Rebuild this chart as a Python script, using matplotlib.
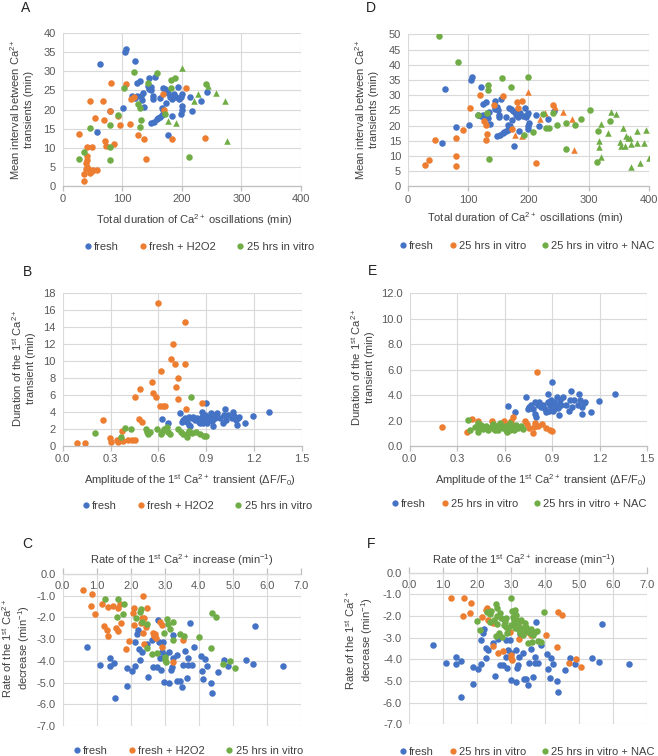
import matplotlib
matplotlib.use('Agg')
import matplotlib.pyplot as plt
from matplotlib.lines import Line2D
from matplotlib.ticker import FormatStrFormatter, MultipleLocator

plt.rcParams['font.family'] = ['Liberation Sans', 'DejaVu Sans']
plt.rcParams['mathtext.fontset'] = 'custom'
plt.rcParams['mathtext.rm'] = 'Liberation Sans'
plt.rcParams['mathtext.it'] = 'Liberation Sans:italic'
plt.rcParams['mathtext.bf'] = 'Liberation Sans:bold'

# ---------------- DATA ----------------
# Panels A / D : total duration (min) vs mean interval (min)
ad_fresh_x = [62, 105, 107, 121, 124, 130, 117, 121, 101, 57, 79, 132, 133, 135, 136, 145, 144, 145, 148, 149,
              155, 152, 152, 148, 153, 158, 160, 163, 166, 169, 166, 163, 168, 171, 174, 177, 173, 176, 180, 183,
              184, 186, 191, 194, 196, 198, 200, 201, 200, 199, 213, 217, 232, 242, 125]
ad_fresh_y = [32, 35, 36, 32.7, 27, 27.6, 23.5, 23, 20.3, 14.2, 19.6, 23.5, 22.5, 24.4, 20.6, 28.2, 26.2, 25.3, 26, 25.1,
              28.6, 23.5, 22.7, 16.5, 16.8, 17.4, 17.7, 18.1, 18.6, 19.9, 20.3, 22.9, 25.6, 25.3, 24.9, 24.4, 21.8, 13.3, 23.4, 22.7,
              18.3, 24.1, 23.2, 25.8, 22.7, 23.4, 24.1, 20.9, 19.9, 18.7, 23.4, 19.7, 22.3, 24.7, 23.6]
a_h2o2_x = [28, 45, 54, 67, 69, 71, 73, 81, 80, 86, 92, 96, 106, 113, 114, 119, 126, 136, 140, 168, 170, 184, 207, 239,
            41, 50, 41, 41, 39, 41, 39, 46, 49, 58, 46, 36, 35, 51]
a_h2o2_y = [13.7, 22.3, 17.9, 22.2, 17.2, 11.8, 10.4, 27, 19.6, 10.9, 18.3, 15.9, 26.6, 16.2, 22.8, 23.2, 13.3, 12.3, 7.1,
            24, 20, 12.2, 25.7, 12.6, 10.2, 10.1, 7.8, 6.7, 5.9, 5, 4.3, 4.1, 3.9, 4.1, 3.4, 3.1, 1.3, 4.2]
ad_vitro_x = [28, 35, 45, 79, 79, 79, 92, 103, 120, 127, 130, 131, 130, 143, 158, 172, 181, 182, 189, 212, 241]
ad_vitro_y = [7, 8.8, 15.2, 15.9, 10.1, 6.7, 18.6, 25.7, 29.9, 21.4, 20.3, 17.2, 15.3, 26.9, 29.7, 18.8, 27.7, 25.6,
              28.2, 7.6, 26.6]
ad_vitro_tri_x = [200, 177, 190, 220, 227, 244, 257, 272, 276]
ad_vitro_tri_y = [31, 17, 16.5, 22.1, 24.1, 26.2, 24.4, 22.1, 11.8]
d_nac_x = [51, 83, 133, 133, 116, 132, 135, 156, 171, 199, 193, 207, 224, 230, 234, 241, 248, 263, 263, 278, 287,
           303, 315, 314, 336]
d_nac_y = [49.6, 41, 33.3, 31.7, 23.5, 24, 8.9, 35.5, 32.6, 36.1, 16.9, 17.7, 23.7, 19.1, 19.3, 24, 20.2, 20.9, 12.3,
           20.2, 22.3, 25, 18.2, 8.1, 21.4]
d_nac_tri_x = [320, 318, 318, 320, 332, 337, 346, 352, 354, 358, 361, 363, 366, 369, 370, 371, 381, 381, 386, 393,
               396, 400]
d_nac_tri_y = [9.5, 13, 14.9, 20.4, 17.4, 24.6, 23.7, 14.7, 13.4, 19.3, 13.4, 16.7, 16.0, 15.8, 13.9, 6.4, 14.3, 18.3,
               7.6, 14.1, 18.5, 9.4]

# Panels B / E : amplitude (dF/F0) vs duration of 1st transient (min)
be_fresh_x = [0.623, 0.663, 0.736, 0.747, 0.757, 0.768, 0.782, 0.795, 0.795, 0.81, 0.82, 0.831, 0.841, 0.858, 0.872,
              0.872, 0.879, 0.887, 0.893, 0.9, 0.9, 0.904, 0.914, 0.921, 0.929, 0.929, 0.937, 0.946, 0.95, 0.956,
              0.967, 0.987, 1.008, 1.013, 1.019, 1.025, 1.04, 1.061, 1.071, 1.077, 1.088, 1.092, 1.102, 1.109, 1.144,
              1.197, 1.297, 0.80, 0.86, 0.91, 0.94]
be_fresh_y = [3.14, 2.67, 3.85, 2.87, 3.07, 3.26, 2.87, 2.48, 3.46, 3.26, 3.46, 3.07, 3.26, 2.87, 4.05,
              3.46, 2.75, 3.26, 3.65, 5.03, 3.07, 2.75, 3.46, 3.07, 3.85, 3.26, 2.99, 2.4, 3.65, 3.26,
              3.85, 3.26, 2.75, 3.65, 4.32, 3.07, 3.65, 3.26, 4.05, 3.58, 3.07, 2.48, 3.34, 3.46, 2.67,
              3.54, 4.05, 2.3, 2.7, 2.9, 3.1]
b_h2o2_x = [0.088, 0.14, 0.251, 0.297, 0.301, 0.343, 0.349, 0.374, 0.381, 0.412, 0.433, 0.454, 0.481, 0.496, 0.485,
            0.454, 0.563, 0.569, 0.586, 0.598, 0.615, 0.611, 0.628, 0.642, 0.678, 0.695, 0.705, 0.709, 0.722, 0.722,
            0.768, 0.77, 0.772, 0.874]
b_h2o2_y = [0.31, 0.31, 3.03, 0.98, 0.51, 0.71, 0.43, 1.81, 0.63, 0.71, 0.71, 0.71, 3.14, 2.79, 6.68,
            5.82, 7.51, 6.21, 5.82, 16.8, 8.84, 4.72, 4.72, 4.72, 10.3, 12.0, 9.67, 7.0, 8.06, 5.5,
            14.66, 9.67, 4.36, 5.03]
be_vitro_x = [0.203, 0.364, 0.391, 0.429, 0.521, 0.527, 0.538, 0.548, 0.594, 0.617, 0.626, 0.638, 0.653, 0.659,
              0.674, 0.726, 0.741, 0.753, 0.778, 0.785, 0.793, 0.805, 0.81, 0.835, 0.862, 0.887, 0.897]
be_vitro_y = [1.49, 1.10, 2.16, 2.0, 2.0, 1.69, 1.38, 1.61, 2.0, 1.38, 1.69, 2.0, 2.28, 1.61,
              1.38, 2.0, 1.69, 1.41, 1.02, 1.49, 1.81, 5.82, 1.57, 1.69, 1.38, 1.22, 1.18]
e_nac_x = [0.369, 0.379, 0.411, 0.432, 0.442, 0.453, 0.474, 0.485, 0.495, 0.512, 0.527, 0.533, 0.548, 0.558, 0.569,
           0.579, 0.60, 0.611, 0.617, 0.632, 0.638, 0.647, 0.659, 0.674, 0.685, 0.706, 0.716, 0.537, 0.432, 0.632,
           0.465, 0.59, 0.50]
e_nac_y = [2.04, 1.23, 1.52, 1.78, 1.44, 1.65, 1.39, 1.57, 1.26, 1.52, 1.73, 1.36, 1.57, 1.26, 1.78,
           1.47, 1.57, 1.26, 1.13, 1.78, 1.52, 1.39, 1.26, 1.65, 1.39, 1.57, 1.34, 1.26, 1.13, 1.26,
           1.30, 1.40, 1.45]

# Panels C / F : rate of increase (1/min) vs rate of decrease (1/min)
cf_fresh_x = [0.70, 1.10, 1.39, 1.39, 1.52, 1.54, 1.88, 1.88, 2.03, 2.12, 2.12, 2.17, 2.20, 2.25, 2.27, 2.32, 2.47,
              2.52, 2.61, 2.66, 2.76, 2.79, 2.84, 2.86, 2.89, 2.91, 2.96, 2.99, 3.01, 3.13, 3.13, 3.17, 3.20, 3.23,
              3.25, 3.35, 3.37, 3.45, 3.50, 3.52, 3.59, 3.64, 3.69, 3.69, 3.74, 3.79, 3.87, 4.05, 4.08, 4.13, 4.18,
              4.23, 4.35, 4.38, 4.57, 4.74, 4.87, 5.37, 5.58, 5.66, 6.46]
cf_fresh_y = [-3.35, -4.19, -3.88, -4.22, -4.08, -5.73, -4.34, -5.16, -4.45, -3.12, -4.22, -2.78, -2.58, -3.47, -3.96,
              -3.58, -3.24, -4.76, -3.04, -4.27, -4.27, -2.12, -3.12, -3.88, -4.42, -3.58, -3.12, -4.96, -3.73, -5.03,
              -3.58, -4.42, -4.27, -3.88, -2.81, -3.73, -4.91, -4.91, -5.19, -4.19, -3.53, -4.80, -3.88, -4.19, -2.27,
              -4.19, -3.35, -3.76, -4.45, -4.84, -3.93, -4.22, -5.0, -5.5, -4.5, -3.96, -4.22, -3.96, -4.14, -2.38,
              -4.22]
c_h2o2_x = [0.59, 0.87, 0.82, 0.95, 1.15, 1.21, 1.31, 1.34, 1.34, 1.47, 1.57, 1.63, 1.63, 1.68, 1.70, 1.86, 1.95,
            2.06, 2.08, 2.10, 2.29, 2.32, 2.35, 2.37, 2.40, 2.45, 2.47, 2.39, 2.64, 2.68, 2.71, 2.74, 2.86, 2.91,
            2.93, 3.25, 3.54]
c_h2o2_y = [-0.74, -0.94, -1.46, -1.86, -1.38, -2.38, -2.58, -2.84, -1.53, -1.46, -2.47, -2.62, -1.58, -1.40, -2.24,
            -3.45, -3.09, -1.78, -1.55, -2.35, -2.24, -2.04, -2.73, -1.0, -2.01, -2.44, -1.55, -3.24, -2.73, -2.86,
            -2.78, -2.96, -2.19, -2.35, -3.35, -4.04, -3.04]
cf_vitro_x = [1.24, 1.61, 1.59, 1.78, 1.81, 2.15, 2.27, 2.30, 2.32, 2.47, 2.47, 2.61, 2.76, 2.98, 3.01, 3.01, 3.03,
              3.07, 3.10, 3.15, 3.23, 3.25, 3.45, 3.57, 4.01, 4.35, 4.38, 4.50, 4.70, 4.90, 5.06]
cf_vitro_y = [-1.15, -1.17, -2.0, -1.86, -1.40, -2.04, -1.73, -1.61, -2.19, -2.32, -3.39, -3.70, -3.62, -2.73, -3.81,
              -3.96, -4.04, -2.07, -2.32, -2.53, -3.04, -2.23, -2.76, -2.86, -2.89, -3.42, -1.81, -1.96, -4.16, -3.99,
              -4.34]
f_nac_x = [2.01, 2.10, 2.30, 2.37, 2.42, 2.39, 2.50, 2.56, 2.58, 2.59, 2.59, 2.56, 2.63, 2.66, 2.71, 2.73, 2.79,
           2.83, 2.86, 2.89, 2.91, 2.99, 3.01, 3.03, 3.05, 3.08, 3.10, 3.12, 3.12, 3.15, 3.18, 3.20, 3.22, 3.25,
           3.28, 3.32, 3.35, 3.40, 3.42, 3.45, 3.48, 3.51, 3.54, 3.59, 3.61, 3.64, 3.69, 3.77, 3.79, 3.87, 3.97,
           2.86, 3.30]
f_nac_y = [-2.21, -2.65, -1.83, -1.92, -1.77, -2.26, -2.18, -1.46, -1.65, -1.98, -2.38, -2.91, -2.80, -1.88, -2.11,
           -2.95, -2.41, -2.26, -2.11, -2.80, -2.57, -2.41, -1.15, -1.77, -2.03, -2.18, -2.38, -2.57, -1.72, -1.95,
           -2.18, -2.41, -2.65, -2.80, -2.54, -2.65, -2.88, -2.60, -2.34, -2.49, -2.69, -3.26, -2.80, -2.60, -3.18,
           -2.88, -2.75, -2.69, -3.15, -3.21, -1.80, -2.49, -2.18]

labels_abc = ['fresh', 'fresh + H2O2', '25 hrs in vitro']
labels_def = ['fresh', '25 hrs in vitro', '25 hrs in vitro + NAC']

# ---------------- STYLE ----------------
COLORS = ['#4472C4', '#ED7D31', '#70AD47']
GRID = '#D9D9D9'
AXC = '#BFBFBF'
TICKC = '#595959'
LABC = '#404040'
FS = 8.0
MS = 22

W, H = 658, 756
fig = plt.figure(figsize=(W / 100, H / 100), dpi=100)


def ax_at(l, t, r, b):
    return fig.add_axes([l / W, 1 - b / H, (r - l) / W, (b - t) / H])


def style(ax, xlim, xstep, xfmt, ylim, ystep, yfmt, top_axis=False):
    ax.set_xlim(*xlim)
    ax.set_ylim(*ylim)
    ax.xaxis.set_major_locator(MultipleLocator(xstep))
    ax.yaxis.set_major_locator(MultipleLocator(ystep))
    ax.xaxis.set_major_formatter(FormatStrFormatter(xfmt))
    ax.yaxis.set_major_formatter(FormatStrFormatter(yfmt))
    for s in ['left', 'right', 'top']:
        ax.spines[s].set_visible(False)
    ax.spines['bottom'].set_color(AXC)
    ax.spines['bottom'].set_linewidth(0.9)
    ax.grid(True, color=GRID, lw=0.8)
    ax.set_axisbelow(True)
    ax.tick_params(axis='y', length=0, pad=5, labelsize=FS, labelcolor=TICKC)
    ax.tick_params(axis='x', length=3.5, width=0.9, color=AXC, pad=2.5, labelsize=FS, labelcolor=TICKC)
    if top_axis:
        ax.spines['bottom'].set_position(('data', 0))
        ax.spines['bottom'].set_zorder(0.5)
        ax.tick_params(axis='x', direction='in', length=4, pad=5)


def legend(labels, cx, cy, cs):
    handles = [Line2D([], [], marker='o', ls='', color=c, markersize=4.5, markeredgewidth=0) for c in COLORS]
    lg = fig.legend(handles, labels, loc='center', bbox_to_anchor=(cx / W, 1 - cy / H), ncol=3, frameon=False,
                    fontsize=FS, handletextpad=0.05, columnspacing=cs, handlelength=1.0, borderaxespad=0,
                    borderpad=0)
    for t in lg.get_texts():
        t.set_color(LABC)


def ftext(x, y, s, **kw):
    kw.setdefault('fontsize', FS)
    kw.setdefault('color', LABC)
    fig.text(x / W, 1 - y / H, s, ha='center', va='center', **kw)


def letter(x, y, s):
    fig.text(x / W, 1 - y / H, s, ha='center', va='center', fontsize=10, color='#222222')


ylab_A = 'Mean interval between Ca$^{2+}$\ntransients (min)'
xlab_A = 'Total duration of Ca$^{2+}$ oscillations (min)'
ylab_B = 'Duration of the 1$^{\\mathrm{st}}$ Ca$^{2+}$\ntransient (min)'
xlab_B = 'Amplitude of the 1$^{\\mathrm{st}}$ Ca$^{2+}$ transient (\u0394F/F$_0$)'
ylab_C = 'Rate of the 1$^{\\mathrm{st}}$ Ca$^{2+}$\ndecrease (min$^{-1}$)'
xlab_C = 'Rate of the 1$^{\\mathrm{st}}$ Ca$^{2+}$ increase (min$^{-1}$)'

# ---------------- PANEL A ----------------
ax = ax_at(62.7, 33.3, 301, 185.7)
style(ax, (0, 400), 100, '%d', (0, 40), 5, '%d')
ax.scatter(ad_fresh_x, ad_fresh_y, s=MS, color=COLORS[0], lw=0)
ax.scatter(a_h2o2_x, a_h2o2_y, s=MS, color=COLORS[1], lw=0)
ax.scatter(ad_vitro_x, ad_vitro_y, s=MS, color=COLORS[2], lw=0)
ax.scatter(ad_vitro_tri_x, ad_vitro_tri_y, s=MS, marker='^', color=COLORS[2], lw=0)
ftext(21, 109, ylab_A, rotation=90, multialignment='center', linespacing=1.2)
ftext(194, 220, xlab_A)
legend(labels_abc, 198, 247, 1.7)
letter(26, 8, 'A')

# ---------------- PANEL D ----------------
ax = ax_at(408, 34.3, 648.7, 186.3)
style(ax, (0, 400), 100, '%d', (0, 50), 5, '%d')
ax.scatter(ad_fresh_x, ad_fresh_y, s=MS, color=COLORS[0], lw=0)
ax.scatter(ad_vitro_x, ad_vitro_y, s=MS, color=COLORS[1], lw=0)
ax.scatter(ad_vitro_tri_x, ad_vitro_tri_y, s=MS, marker='^', color=COLORS[1], lw=0)
ax.scatter(d_nac_x, d_nac_y, s=MS, color=COLORS[2], lw=0)
ax.scatter(d_nac_tri_x, d_nac_tri_y, s=MS, marker='^', color=COLORS[2], lw=0)
ftext(366, 109, ylab_A, rotation=90, multialignment='center', linespacing=1.2)
ftext(525, 218, xlab_A)
legend(labels_def, 526, 246, 1.2)
letter(371, 8, 'D')

# ---------------- PANEL B ----------------
ax = ax_at(62.7, 293.3, 301.7, 446)
style(ax, (0, 1.5), 0.3, '%.1f', (0, 18), 2, '%d')
ax.scatter(be_fresh_x, be_fresh_y, s=MS, color=COLORS[0], lw=0)
ax.scatter(b_h2o2_x, b_h2o2_y, s=MS, color=COLORS[1], lw=0)
ax.scatter(be_vitro_x, be_vitro_y, s=MS, color=COLORS[2], lw=0)
ftext(23, 368, ylab_B, rotation=90, multialignment='center', linespacing=1.2)
ftext(190, 480, xlab_B)
legend(labels_abc, 196, 506, 1.7)
letter(27, 272, 'B')

# ---------------- PANEL E ----------------
ax = ax_at(409.7, 293.3, 647, 446)
style(ax, (0, 1.5), 0.3, '%.1f', (0, 12), 2, '%.1f')
ax.scatter(be_fresh_x, be_fresh_y, s=MS, color=COLORS[0], lw=0)
ax.scatter(be_vitro_x, be_vitro_y, s=MS, color=COLORS[1], lw=0)
ax.scatter(e_nac_x, e_nac_y, s=MS, color=COLORS[2], lw=0)
ftext(362, 367, ylab_B, rotation=90, multialignment='center', linespacing=1.2)
ftext(541, 480, xlab_B)
legend(labels_def, 518, 504, 1.2)
letter(373, 271, 'E')

# ---------------- PANEL C ----------------
ax = ax_at(62.7, 574, 301, 726)
style(ax, (0, 7), 1, '%.1f', (-7, 0), 1, '%.1f', top_axis=True)
ax.scatter(cf_fresh_x, cf_fresh_y, s=MS, color=COLORS[0], lw=0)
ax.scatter(c_h2o2_x, c_h2o2_y, s=MS, color=COLORS[1], lw=0)
ax.scatter(cf_vitro_x, cf_vitro_y, s=MS, color=COLORS[2], lw=0)
ftext(16, 648, ylab_C, rotation=90, multialignment='center', linespacing=1.2)
ftext(182, 560, xlab_C)
legend(labels_abc, 187, 751, 1.7)
letter(27, 544, 'C')

# ---------------- PANEL F ----------------
ax = ax_at(409, 572.7, 647.3, 724.3)
style(ax, (0, 7), 1, '%.1f', (-7, 0), 1, '%.1f', top_axis=True)
ax.scatter(cf_fresh_x, cf_fresh_y, s=MS, color=COLORS[0], lw=0)
ax.scatter(cf_vitro_x, cf_vitro_y, s=MS, color=COLORS[1], lw=0)
ax.scatter(f_nac_x, f_nac_y, s=MS, color=COLORS[2], lw=0)
ftext(359, 640, ylab_C, rotation=90, multialignment='center', linespacing=1.2)
ftext(524, 560, xlab_C)
legend(labels_def, 526, 752, 1.2)
letter(371, 544, 'F')

fig.savefig('out.png', dpi=100)
